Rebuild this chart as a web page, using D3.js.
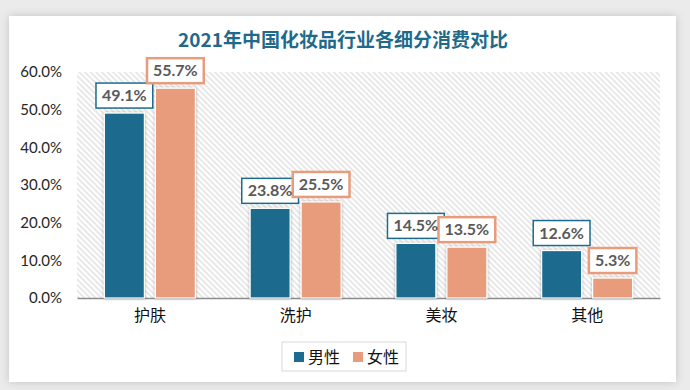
<!DOCTYPE html>
<html><head><meta charset="utf-8">
<script src="https://cdn.jsdelivr.net/npm/d3@7"></script>
<style>html,body{margin:0;padding:0;background:#ebebeb;}svg{display:block;}</style>
</head><body>
<svg id="c" width="690" height="390"></svg>
<script>
const categories = ["护肤", "洗护", "美妆", "其他"];
const seriesNames = ["男性", "女性"];
const maleValues = [0.491, 0.238, 0.145, 0.126];
const femaleValues = [0.557, 0.255, 0.135, 0.053];
const yTicks = [0, 0.1, 0.2, 0.3, 0.4, 0.5, 0.6];
const title = "2021年中国化妆品行业各细分消费对比";
const colors = ["#1d6b8e", "#e89c7b"];

(function(){
const svg = d3.select("#c");
const defs = svg.append("defs");
const sh = defs.append("filter").attr("id","cardShadow").attr("x","-5%").attr("y","-5%").attr("width","110%").attr("height","110%");
sh.append("feDropShadow").attr("dx",0).attr("dy",0).attr("stdDeviation",4).attr("flood-color","#000").attr("flood-opacity",0.18);
const bs = defs.append("filter").attr("id","barShadow").attr("x","-20%").attr("y","-20%").attr("width","140%").attr("height","140%");
bs.append("feDropShadow").attr("dx",0).attr("dy",0).attr("stdDeviation",1.5).attr("flood-color","#000").attr("flood-opacity",0.3);
const pat = defs.append("pattern").attr("id","hatch").attr("patternUnits","userSpaceOnUse")
  .attr("width",4).attr("height",4).attr("patternTransform","rotate(-45)");
pat.append("rect").attr("width",4).attr("height",4).attr("fill","#ffffff");
pat.append("line").attr("x1",1).attr("y1",0).attr("x2",1).attr("y2",4).attr("stroke","#d9d9d9").attr("stroke-width",1.2);

svg.append("rect").attr("width",690).attr("height",390).attr("fill","#ebebeb");
svg.append("rect").attr("x",9).attr("y",16).attr("width",667).attr("height",366).attr("fill","#fff").attr("filter","url(#cardShadow)");

const pl = 77, pr = 660, pt = 72, pb = 298;
const x0 = d3.scaleBand().domain(categories).range([pl, pr]);
const x1 = d3.scaleBand().domain(seriesNames)
  .range([x0.bandwidth()/2 - 45.5, x0.bandwidth()/2 + 45.5]).paddingInner(0.2157);
const y = d3.scaleLinear().domain([0, 0.6]).range([pb, pt]);

svg.append("rect").attr("x",pl).attr("y",pt).attr("width",pr-pl).attr("height",pb-pt).attr("fill","url(#hatch)");

svg.append("text").attr("x",343).attr("y",47).attr("text-anchor","middle")
  .attr("font-family","'Noto Sans CJK SC', sans-serif").attr("font-weight","bold").attr("font-size",19)
  .attr("fill","#1f6a8a").text(title);

const yAxis = d3.axisLeft(y).tickValues(yTicks).tickFormat(d3.format(".1%")).tickSize(0).tickPadding(15);
const ya = svg.append("g").attr("transform",`translate(${pl},0)`).call(yAxis);
ya.select(".domain").remove();
ya.selectAll("text").attr("font-family","Lato, 'Open Sans', sans-serif").attr("font-size",15).attr("fill","#262626");

const xAxis = d3.axisBottom(x0).tickSize(0).tickPadding(12);
const xa = svg.append("g").attr("transform",`translate(0,${pb})`).call(xAxis);
xa.select(".domain").attr("stroke","#8c8c8c").attr("stroke-width",1.5);
xa.selectAll("text").attr("font-family","'Noto Sans CJK SC', sans-serif").attr("font-size",16).attr("fill","#111");

const data = [];
categories.forEach((c,i)=>{
  data.push({cat:c, s:seriesNames[0], v:maleValues[i], k:0});
  data.push({cat:c, s:seriesNames[1], v:femaleValues[i], k:1});
});

svg.append("g").selectAll("rect").data(data).join("rect")
  .attr("x", d=>x0(d.cat)+x1(d.s)).attr("y", d=>y(d.v))
  .attr("width", x1.bandwidth()).attr("height", d=>y(0)-y(d.v))
  .attr("fill", d=>colors[d.k]).attr("stroke","#fff").attr("stroke-width",1.2)
  .attr("filter","url(#barShadow)");

const lg = svg.append("g");
data.forEach(d=>{
  const cx = x0(d.cat)+x1(d.s)+x1.bandwidth()/2;
  const label = d3.format(".1%")(d.v);
  const t = lg.append("text").attr("x",cx).attr("y",y(d.v)-12)
    .attr("text-anchor","middle").attr("font-family","Lato, 'Open Sans', sans-serif")
    .attr("font-weight","bold").attr("font-size",16).attr("fill","#595959").text(label);
  const w = t.node().getComputedTextLength() + 12;
  const h = 25;
  lg.insert("rect", "text").attr("x",cx-w/2).attr("y",y(d.v)-5-h).attr("width",w).attr("height",h)
    .attr("fill","#fff").attr("stroke",colors[d.k]).attr("stroke-width", d.k===0?1.5:2.5);
});

const leg = svg.append("g");
leg.append("rect").attr("x",282).attr("y",342).attr("width",124).attr("height",29).attr("fill","#fff").attr("stroke","#d9d9d9").attr("stroke-width",1);
const legX = [294, 353];
seriesNames.forEach((n,i)=>{
  leg.append("rect").attr("x",legX[i]).attr("y",352).attr("width",10).attr("height",10).attr("fill",colors[i]);
  leg.append("text").attr("x",legX[i]+14).attr("y",363).attr("font-family","'Noto Sans CJK SC', sans-serif")
    .attr("font-size",16).attr("fill","#111").text(n);
});
})();
</script>
</body></html>
